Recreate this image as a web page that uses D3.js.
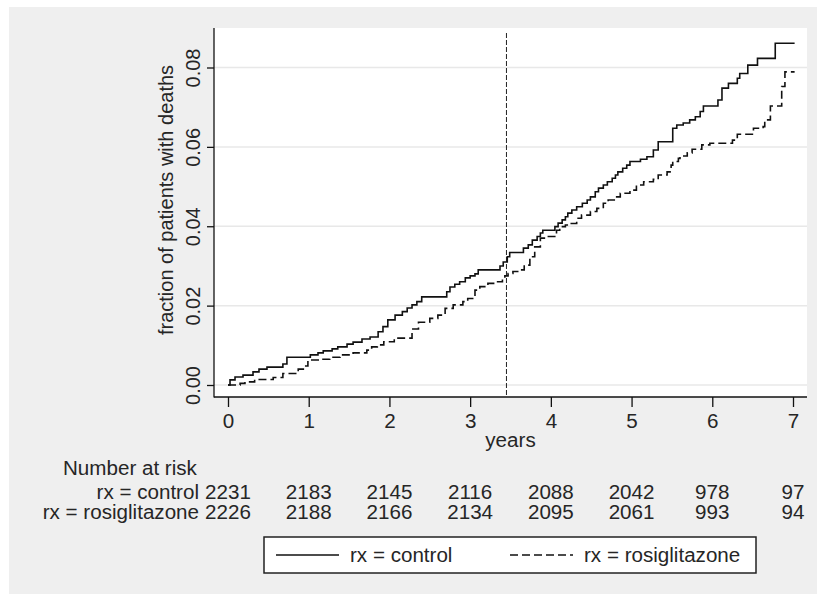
<!DOCTYPE html>
<html>
<head>
<meta charset="utf-8">
<script src="https://cdn.jsdelivr.net/npm/d3@7"></script>
<style>
  html, body { margin: 0; padding: 0; background: #ffffff; }
  svg { display: block; }
  text { font-family: "Liberation Sans", Arial, sans-serif; fill: #262626; }
</style>
</head>
<body>
<svg id="chart" width="817" height="594"></svg>
<script>
// Cumulative fraction of patients with deaths, by treatment arm (step functions)
const controlTime = [0, 0.025, 0.087, 0.186, 0.31, 0.384, 0.483, 0.68, 0.73, 1.02, 1.115, 1.18, 1.29, 1.36, 1.475, 1.55, 1.66, 1.76, 1.86, 1.92, 1.98, 2.07, 2.16, 2.22, 2.28, 2.34, 2.40, 2.71, 2.75, 2.81, 2.87, 2.94, 3.00, 3.06, 3.10, 3.37, 3.41, 3.46, 3.49, 3.66, 3.72, 3.77, 3.83, 3.87, 3.90, 4.05, 4.09, 4.14, 4.18, 4.21, 4.26, 4.32, 4.39, 4.45, 4.49, 4.55, 4.59, 4.65, 4.70, 4.76, 4.80, 4.83, 4.89, 4.94, 4.98, 5.11, 5.19, 5.27, 5.33, 5.51, 5.56, 5.64, 5.72, 5.79, 5.85, 5.89, 6.07, 6.12, 6.20, 6.31, 6.34, 6.44, 6.56, 6.78];
const controlFrac = [0, 0.0013, 0.0020, 0.0025, 0.0033, 0.0040, 0.0045, 0.0053, 0.0070, 0.0076, 0.0081, 0.0086, 0.0091, 0.0096, 0.0103, 0.0108, 0.0116, 0.0121, 0.0134, 0.0147, 0.0164, 0.0176, 0.0185, 0.0194, 0.0202, 0.0210, 0.0222, 0.0235, 0.0247, 0.0254, 0.0260, 0.0270, 0.0275, 0.0280, 0.0290, 0.0300, 0.0310, 0.0323, 0.0334, 0.0345, 0.0353, 0.0365, 0.0374, 0.0383, 0.0390, 0.0399, 0.0408, 0.0416, 0.0424, 0.0433, 0.0441, 0.0449, 0.0458, 0.0466, 0.0474, 0.0487, 0.0496, 0.0504, 0.0512, 0.0521, 0.0529, 0.0537, 0.0546, 0.0554, 0.0563, 0.0569, 0.0575, 0.0592, 0.0613, 0.0647, 0.0655, 0.0660, 0.0668, 0.0676, 0.0689, 0.0703, 0.0718, 0.0748, 0.0760, 0.0773, 0.0785, 0.0806, 0.0823, 0.0861];

const rosiTime = [0, 0.15, 0.21, 0.33, 0.56, 0.68, 0.87, 0.95, 0.99, 1.14, 1.26, 1.39, 1.55, 1.72, 1.78, 1.85, 1.93, 2.06, 2.28, 2.36, 2.50, 2.60, 2.69, 2.79, 2.91, 2.97, 3.06, 3.12, 3.22, 3.33, 3.40, 3.43, 3.47, 3.53, 3.62, 3.67, 3.74, 3.80, 3.87, 3.93, 4.07, 4.11, 4.18, 4.24, 4.32, 4.38, 4.49, 4.57, 4.65, 4.71, 4.80, 4.86, 4.98, 5.06, 5.15, 5.27, 5.33, 5.44, 5.49, 5.51, 5.58, 5.60, 5.69, 5.75, 5.87, 5.97, 6.25, 6.31, 6.51, 6.63, 6.65, 6.72, 6.86, 6.90];
const rosiFrac = [0, 0.0004, 0.0008, 0.0014, 0.0019, 0.0029, 0.0040, 0.0048, 0.0063, 0.0065, 0.0070, 0.0076, 0.0081, 0.0088, 0.0096, 0.0101, 0.0109, 0.0118, 0.0141, 0.0158, 0.0168, 0.0176, 0.0193, 0.0202, 0.0210, 0.0218, 0.0239, 0.0248, 0.0256, 0.0260, 0.0269, 0.0275, 0.0281, 0.0286, 0.0290, 0.0302, 0.0323, 0.0348, 0.0370, 0.0374, 0.0390, 0.0399, 0.0403, 0.0407, 0.0420, 0.0428, 0.0437, 0.0445, 0.0458, 0.0466, 0.0474, 0.0483, 0.0491, 0.0504, 0.0512, 0.0518, 0.0529, 0.0537, 0.0554, 0.0563, 0.0571, 0.0577, 0.0585, 0.0594, 0.0605, 0.0609, 0.0617, 0.0632, 0.0647, 0.0651, 0.0668, 0.0703, 0.0752, 0.0789];

const followUpEnd = 7.02;          // last observation time (years)
const referenceYear = 3.45;        // vertical reference line
const yearTicks = [0, 1, 2, 3, 4, 5, 6, 7];
const fracTicks = [0, 0.02, 0.04, 0.06, 0.08];
const fracTickLabels = ["0.00", "0.02", "0.04", "0.06", "0.08"];

// Number at risk table
const riskGroups = ["rx = control", "rx = rosiglitazone"];
const controlAtRisk = [2231, 2183, 2145, 2116, 2088, 2042, 978, 97];
const rosiAtRisk = [2226, 2188, 2166, 2134, 2095, 2061, 993, 94];

const seriesNames = ["rx = control", "rx = rosiglitazone"];

// ---------------------------------------------------------------
const svg = d3.select("#chart");
const FS = 20;     // base font size
const SX = 1.03;   // slight horizontal text stretch of the export
const DASH = "8,4";

const plot = { left: 214, right: 807, top: 28, bottom: 397 };

const x = d3.scaleLinear().domain([0, 7]).range([228, 793]);
const y = d3.scaleLinear().domain([0, 0.08]).range([385, 67.5]);

// outer grey background
svg.append("rect").attr("x", 9).attr("y", 7).attr("width", 808).attr("height", 587)
  .attr("fill", "#efefef");

// plot region
svg.append("rect").attr("x", plot.left).attr("y", plot.top)
  .attr("width", plot.right - plot.left).attr("height", plot.bottom - plot.top)
  .attr("fill", "#ffffff");

// horizontal gridlines
svg.append("g").selectAll("line").data(fracTicks).join("line")
  .attr("x1", plot.left).attr("x2", plot.right)
  .attr("y1", d => y(d)).attr("y2", d => y(d))
  .attr("stroke", "#e8e8e8").attr("stroke-width", 1.5);

// vertical reference line
svg.append("line")
  .attr("x1", x(referenceYear)).attr("x2", x(referenceYear))
  .attr("y1", 33).attr("y2", plot.bottom)
  .attr("stroke", "#222").attr("stroke-width", 1)
  .attr("stroke-dasharray", "5,2");

// step curves
const stepLine = d3.line().x(d => x(d[0])).y(d => y(d[1])).curve(d3.curveStepAfter);
function steps(times, fracs) {
  const pts = times.map((t, i) => [t, fracs[i]]);
  pts.push([followUpEnd, fracs[fracs.length - 1]]);
  return pts;
}
svg.append("path").datum(steps(controlTime, controlFrac))
  .attr("d", stepLine).attr("fill", "none")
  .attr("stroke", "#111").attr("stroke-width", 1.6);
svg.append("path").datum(steps(rosiTime, rosiFrac))
  .attr("d", stepLine).attr("fill", "none")
  .attr("stroke", "#111").attr("stroke-width", 1.6)
  .attr("stroke-dasharray", DASH);

// axis lines
svg.append("line").attr("x1", plot.left).attr("x2", plot.left)
  .attr("y1", plot.top).attr("y2", plot.bottom + 0.5)
  .attr("stroke", "#111").attr("stroke-width", 1.3);
svg.append("line").attr("x1", plot.left).attr("x2", plot.right)
  .attr("y1", plot.bottom).attr("y2", plot.bottom)
  .attr("stroke", "#111").attr("stroke-width", 1.3);

// x axis
const xAxis = svg.append("g").attr("transform", `translate(0,${plot.bottom})`)
  .call(d3.axisBottom(x).tickValues(yearTicks).tickFormat(d3.format("d"))
    .tickSize(10).tickSizeOuter(0).tickPadding(0));
xAxis.select(".domain").remove();
xAxis.selectAll(".tick line").attr("stroke", "#111").attr("stroke-width", 1.3);
xAxis.selectAll(".tick text")
  .attr("y", null).attr("dy", null)
  .attr("transform", `translate(0,31) scale(${SX},1)`)
  .attr("font-size", FS).attr("fill", "#262626");

// y axis
const yAxis = svg.append("g").attr("transform", `translate(${plot.left},0)`)
  .call(d3.axisLeft(y).tickValues(fracTicks).tickFormat((d, i) => fracTickLabels[i])
    .tickSize(7).tickSizeOuter(0));
yAxis.select(".domain").remove();
yAxis.selectAll(".tick line").attr("stroke", "#111").attr("stroke-width", 1.3);
yAxis.selectAll(".tick text")
  .attr("x", null).attr("dy", null)
  .attr("text-anchor", "middle")
  .attr("transform", `translate(-14,0) scale(${SX},1) rotate(-90)`)
  .attr("font-size", FS).attr("fill", "#262626");

// axis titles
function stretchedText(g, tx, ty, str, anchor, size) {
  return g.append("text")
    .attr("transform", `translate(${tx},${ty}) scale(${SX},1)`)
    .attr("text-anchor", anchor || "start")
    .attr("font-size", size || FS)
    .text(str);
}
stretchedText(svg, (plot.left + plot.right) / 2, 447, "years", "middle");

svg.append("text")
  .attr("transform", `translate(173,200) scale(${SX},1) rotate(-90)`)
  .attr("text-anchor", "middle").attr("font-size", FS)
  .text("fraction of patients with deaths");

// number at risk table
const risk = svg.append("g");
stretchedText(risk, 63, 475, "Number at risk");
const riskRows = [controlAtRisk, rosiAtRisk];
riskRows.forEach((row, r) => {
  const by = 499 + r * 20;
  stretchedText(risk, 199, by, riskGroups[r], "end");
  row.forEach((n, i) => stretchedText(risk, x(yearTicks[i]), by, String(n), "middle"));
});

// legend: two equal-width columns (key + label)
const lg = svg.append("g");
lg.append("rect").attr("x", 264).attr("y", 537).attr("width", 492).attr("height", 36)
  .attr("fill", "#ffffff").attr("stroke", "#222").attr("stroke-width", 1.5);
const legendItems = [
  { name: seriesNames[0], x0: 276, dash: null },
  { name: seriesNames[1], x0: 510, dash: DASH }
];
legendItems.forEach(it => {
  lg.append("line").attr("x1", it.x0).attr("x2", it.x0 + 63)
    .attr("y1", 555).attr("y2", 555)
    .attr("stroke", "#111").attr("stroke-width", 1.6)
    .attr("stroke-dasharray", it.dash);
  stretchedText(lg, it.x0 + 74, 562, it.name, "start");
});
</script>
</body>
</html>
